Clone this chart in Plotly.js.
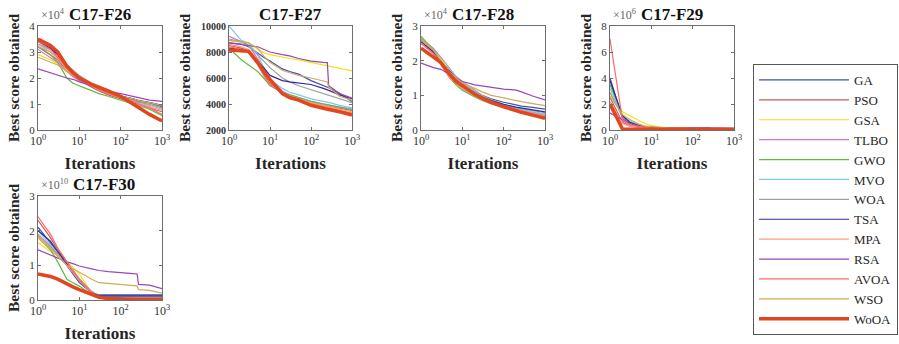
<!DOCTYPE html>
<html><head><meta charset="utf-8">
<script src="https://cdn.plot.ly/plotly-3.0.1.min.js"></script>
<style>body{margin:0;background:#fff}</style>
</head><body><div id="chart" style="width:899px;height:344px"></div>
<script>
const algorithms = ["GA","PSO","GSA","TLBO","GWO","MVO","WOA","TSA","MPA","RSA","AVOA","WSO","WoOA"];
const colors = ["#3f51b5","#c65a5a","#f2e21a","#d275c8","#5fba46","#7cc8f0","#a0a0a0","#2b2b96","#ff9a7a","#9b46b4","#ff6a6a","#d2aa5a","#e2461e"];
const iterations = [1,2,3,5,7,10,20,30,50,100,200,250,270,500,1000];

// C17-F26 (x1e4)
const F26 = [
 [3.3,3.1,2.9,2.5,2.25,2.05,1.75,1.6,1.45,1.3,1.15,1.1,1.08,1.0,0.9],
 [3.2,2.9,2.7,2.3,2.1,1.9,1.65,1.5,1.35,1.2,1.05,1.0,0.98,0.85,0.7],
 [2.9,2.7,2.55,2.3,2.15,2.0,1.7,1.55,1.45,1.3,1.15,1.1,1.08,1.0,0.85],
 [3.1,2.8,2.6,2.25,2.05,1.9,1.7,1.55,1.45,1.3,1.2,1.15,1.13,1.05,0.95],
 [3.2,2.9,2.6,2.0,1.8,1.7,1.5,1.4,1.3,1.15,1.0,0.95,0.93,0.8,0.55],
 [3.3,3.1,2.8,2.4,2.2,2.0,1.7,1.55,1.4,1.25,1.1,1.05,1.03,0.95,0.8],
 [3.2,3.0,2.8,2.5,2.3,2.1,1.8,1.6,1.45,1.3,1.15,1.1,1.08,0.98,0.85],
 [3.4,3.15,2.9,2.4,2.15,1.95,1.7,1.6,1.45,1.3,1.2,1.15,1.13,1.05,0.95],
 [3.3,3.0,2.75,2.35,2.15,2.0,1.7,1.55,1.4,1.25,1.1,1.05,1.0,0.9,0.75],
 [2.35,2.2,2.1,2.0,1.95,1.85,1.7,1.6,1.5,1.4,1.3,1.25,1.23,1.15,1.1],
 [3.4,3.1,2.8,2.4,2.2,2.0,1.7,1.55,1.4,1.25,1.1,1.05,1.0,0.85,0.6],
 [2.8,2.6,2.5,2.25,2.1,1.95,1.7,1.6,1.45,1.3,1.2,1.15,1.13,1.05,0.95],
 [3.5,3.25,3.0,2.45,2.2,2.0,1.75,1.65,1.5,1.3,1.0,0.92,0.88,0.6,0.35]
];
// C17-F27
const F27 = [
 [8700,8600,8400,7900,7600,7300,6700,6500,6300,5800,5400,5300,5250,4800,4200],
 [8500,8300,8100,7200,6300,5600,4900,4600,4400,4100,3900,3850,3830,3650,3500],
 [8900,8800,8700,8200,7950,7800,7600,7500,7400,7200,7000,6950,6900,6750,6550],
 [9200,8800,8500,7500,6700,5900,5000,4700,4500,4200,4000,3950,3930,3750,3600],
 [8300,7400,7000,6500,6000,5400,4900,4700,4500,4200,4000,3950,3930,3750,3550],
 [10000,8900,8700,7800,6800,5900,5200,4900,4700,4400,4200,4150,4120,3900,3700],
 [9000,8800,8500,7800,7300,6800,6000,5700,5400,5100,4800,4700,4650,4400,4100],
 [8300,8200,8000,7300,6800,6200,5800,5700,5600,5500,5200,5100,5050,4700,4400],
 [8600,8400,8200,7400,6500,5700,4900,4600,4400,4100,3900,3850,3800,3600,3400],
 [8700,8600,8500,8400,8200,8000,7800,7700,7500,7300,7200,7180,5400,4800,4450],
 [8400,8200,8000,7000,6200,5500,4800,4500,4300,4000,3800,3750,3700,3500,3300],
 [8900,8800,8700,8300,7700,7200,6600,6400,6200,6000,5800,5700,5300,4600,4300],
 [8150,8100,8050,7200,6500,5900,4800,4500,4300,3900,3650,3600,3570,3400,3150]
];
// C17-F28 (x1e4)
const F28 = [
 [2.6,2.3,2.0,1.7,1.5,1.35,1.1,1.0,0.9,0.8,0.72,0.7,0.69,0.65,0.6],
 [2.55,2.2,1.9,1.5,1.35,1.2,0.98,0.88,0.78,0.66,0.57,0.55,0.54,0.48,0.42],
 [2.7,2.35,2.05,1.65,1.45,1.3,1.05,0.95,0.85,0.72,0.62,0.6,0.59,0.52,0.45],
 [2.6,2.25,1.95,1.6,1.4,1.25,1.0,0.9,0.8,0.68,0.58,0.56,0.55,0.5,0.45],
 [2.7,2.3,1.95,1.5,1.3,1.15,0.95,0.85,0.75,0.65,0.56,0.54,0.53,0.47,0.4],
 [2.6,2.3,2.0,1.6,1.45,1.35,1.1,0.98,0.86,0.72,0.62,0.6,0.59,0.52,0.46],
 [2.65,2.35,2.1,1.75,1.55,1.4,1.15,1.0,0.88,0.74,0.64,0.62,0.61,0.55,0.5],
 [2.55,2.25,1.95,1.6,1.45,1.3,1.05,0.95,0.85,0.74,0.66,0.64,0.63,0.58,0.52],
 [2.5,2.2,1.9,1.5,1.35,1.2,0.98,0.88,0.78,0.67,0.58,0.56,0.55,0.48,0.4],
 [1.93,1.8,1.75,1.6,1.5,1.4,1.3,1.27,1.23,1.18,1.15,1.12,1.1,0.98,0.87],
 [2.5,2.2,1.95,1.55,1.4,1.25,1.0,0.9,0.8,0.68,0.58,0.56,0.55,0.47,0.38],
 [2.6,2.3,2.0,1.65,1.5,1.35,1.2,1.1,1.0,0.92,0.85,0.83,0.82,0.76,0.7],
 [2.36,2.1,1.95,1.6,1.4,1.28,1.03,0.92,0.8,0.67,0.55,0.52,0.51,0.43,0.34]
];
// C17-F29 (x1e6)
const F29 = [
 [4.0,0.9,0.5,0.3,0.25,0.2,0.15,0.15,0.15,0.15,0.15,0.15,0.1,0.1,0.1],
 [2.5,0.6,0.3,0.2,0.15,0.15,0.12,0.1,0.1,0.1,0.1,0.1,0.1,0.08,0.08],
 [2.8,1.4,1.1,0.7,0.5,0.35,0.15,0.12,0.12,0.12,0.1,0.1,0.1,0.1,0.1],
 [1.8,0.7,0.4,0.25,0.2,0.18,0.15,0.15,0.15,0.15,0.15,0.15,0.1,0.1,0.1],
 [3.5,1.0,0.6,0.3,0.2,0.15,0.12,0.1,0.1,0.1,0.1,0.1,0.1,0.1,0.1],
 [3.2,1.1,0.7,0.4,0.3,0.2,0.15,0.15,0.12,0.12,0.12,0.12,0.1,0.1,0.1],
 [2.9,1.0,0.6,0.35,0.25,0.2,0.18,0.15,0.15,0.15,0.15,0.15,0.1,0.1,0.1],
 [3.8,1.1,0.6,0.35,0.25,0.2,0.15,0.15,0.15,0.15,0.15,0.15,0.1,0.1,0.1],
 [2.2,0.5,0.3,0.2,0.15,0.12,0.1,0.1,0.1,0.1,0.1,0.1,0.08,0.08,0.08],
 [1.3,0.8,0.5,0.3,0.25,0.2,0.18,0.18,0.18,0.18,0.18,0.18,0.12,0.12,0.12],
 [7.0,0.8,0.4,0.25,0.2,0.15,0.12,0.1,0.1,0.1,0.1,0.1,0.1,0.08,0.08],
 [2.6,1.2,0.8,0.45,0.3,0.25,0.18,0.15,0.15,0.15,0.15,0.15,0.12,0.1,0.1],
 [2.0,0.08,0.06,0.05,0.05,0.05,0.05,0.05,0.05,0.05,0.05,0.05,0.05,0.05,0.05]
];
// C17-F30 (x1e10)
const F30 = [
 [2.1,1.65,1.35,1.0,0.75,0.5,0.2,0.15,0.15,0.15,0.15,0.15,0.15,0.15,0.15],
 [2.3,1.8,1.45,1.1,0.85,0.6,0.2,0.08,0.05,0.04,0.04,0.04,0.04,0.03,0.03],
 [1.65,1.4,1.3,1.1,0.95,0.75,0.2,0.08,0.06,0.05,0.05,0.05,0.05,0.05,0.05],
 [1.9,1.55,1.3,1.0,0.8,0.55,0.2,0.1,0.06,0.05,0.05,0.05,0.05,0.05,0.05],
 [1.8,1.45,1.1,0.6,0.5,0.4,0.15,0.08,0.05,0.04,0.04,0.04,0.04,0.04,0.04],
 [2.0,1.6,1.35,1.05,0.8,0.55,0.2,0.1,0.08,0.08,0.08,0.08,0.08,0.08,0.08],
 [1.85,1.55,1.35,1.1,0.85,0.6,0.25,0.12,0.1,0.1,0.1,0.1,0.1,0.1,0.1],
 [2.0,1.7,1.4,1.05,0.8,0.55,0.2,0.12,0.12,0.12,0.12,0.12,0.12,0.12,0.12],
 [1.8,1.5,1.3,1.0,0.8,0.55,0.2,0.08,0.05,0.04,0.04,0.04,0.04,0.04,0.04],
 [1.45,1.3,1.2,1.1,1.05,0.98,0.9,0.85,0.82,0.8,0.76,0.75,0.45,0.43,0.33],
 [2.4,1.9,1.5,1.1,0.85,0.6,0.2,0.06,0.04,0.03,0.03,0.03,0.03,0.03,0.03],
 [1.9,1.5,1.25,1.0,0.9,0.8,0.6,0.5,0.48,0.45,0.42,0.41,0.3,0.28,0.2],
 [0.75,0.68,0.6,0.45,0.38,0.3,0.15,0.08,0.04,0.02,0.02,0.02,0.02,0.02,0.02]
];

const titles = ["C17-F26","C17-F27","C17-F28","C17-F29","C17-F30"];
const exponents = ["4","","4","6","10"];
const yRanges = [[0,4],[2000,10000],[0,3],[0,8],[0,3]];
const yTicks = [[0,1,2,3,4],[2000,4000,6000,8000,10000],[0,1,2,3],[0,2,4,6,8],[0,1,2,3]];
const yTickText = [["0","1","2","3","4"],["2000","4000","6000","8000","10000"],["0","1","2","3"],["0","2","4","6","8"],["0","1","2","3"]];
const xTickVals = [1,10,100,1000];
const xTickText = ["10<sup>0</sup>","10<sup>1</sup>","10<sup>2</sup>","10<sup>3</sup>"];
const panelData = [F26,F27,F28,F29,F30];

const W = 899, H = 344;
const boxes = [[38,162,26,130],[229,352,26,130],[421,545,26,130],[610,734,26,130],[38,162,196,300]];
const FONT = "Liberation Serif, Times New Roman, serif";
const INK = "#262626";
const BOX = "#6e6e6e";

const traces = [];
const layout = {
  width: W, height: H, margin: {l:0,r:0,t:0,b:0},
  paper_bgcolor: "#fff", plot_bgcolor: "#fff",
  font: {family: FONT, color: INK, size: 12},
  showlegend: true,
  legend: {x: 753/W, y: 1-64/H, xanchor: "left", yanchor: "top",
    bordercolor: "#555", borderwidth: 1, bgcolor: "#fff",
    font: {family: FONT, size: 13, color: INK}, itemwidth: 90, tracegroupgap: 0},
  annotations: []
};

panelData.forEach((data, p) => {
  const sfx = p === 0 ? "" : String(p+1);
  const [x0,x1,y0,y1] = boxes[p];
  data.forEach((ys, i) => {
    const last = i === data.length-1;
    traces.push({
      x: iterations, y: ys, type: "scatter", mode: "lines",
      name: algorithms[i], legendgroup: algorithms[i], showlegend: p === 0,
      line: {color: colors[i], width: last ? 3.5 : 1.2},
      xaxis: "x"+sfx, yaxis: "y"+sfx, hoverinfo: "skip"
    });
  });
  const common = {showline: true, mirror: "ticks", linecolor: BOX, linewidth: 1,
    ticks: "inside", ticklen: 3, tickcolor: BOX, tickwidth: 1, showgrid: false, zeroline: false};
  layout["xaxis"+sfx] = Object.assign({}, common, {
    type: "log", range: [0,3], domain: [x0/W, x1/W], anchor: "y"+sfx,
    tickvals: xTickVals, ticktext: xTickText,
    tickfont: {family: FONT, size: 12, color: "#333"},
    title: {text: "<b>Iterations</b>", font: {family: FONT, size: 17, color: INK}, standoff: 9}
  });
  layout["yaxis"+sfx] = Object.assign({}, common, {
    range: yRanges[p], domain: [1-y1/H, 1-y0/H], anchor: "x"+sfx,
    tickvals: yTicks[p], ticktext: yTickText[p],
    tickfont: {family: FONT, size: p === 1 ? 10 : 11, color: "#333", weight: p === 1 ? "bold" : "normal"},
    title: {text: "<b>Best score obtained</b>", font: {family: FONT, size: 15.5, color: INK}, standoff: p === 1 ? 6 : 5}
  });
  layout.annotations.push({text: "<b>"+titles[p]+"</b>", xref: "paper", yref: "paper",
    x: (x0+x1)/2/W + (p===4 ? 4/W : 0), y: 1-(y0-11)/H, xanchor: "center", yanchor: "middle", showarrow: false,
    font: {family: FONT, size: 17, color: "#111"}});
  if (exponents[p]) {
    layout.annotations.push({text: "×10<sup>"+exponents[p]+"</sup>", xref: "paper", yref: "paper",
      x: (x0+1)/W, y: 1-(y0-11)/H, xanchor: "left", yanchor: "middle", showarrow: false,
      font: {family: FONT, size: 12, color: "#666"}});
  }
});

Plotly.newPlot("chart", traces, layout, {displayModeBar: false, staticPlot: true});
</script></body></html>
